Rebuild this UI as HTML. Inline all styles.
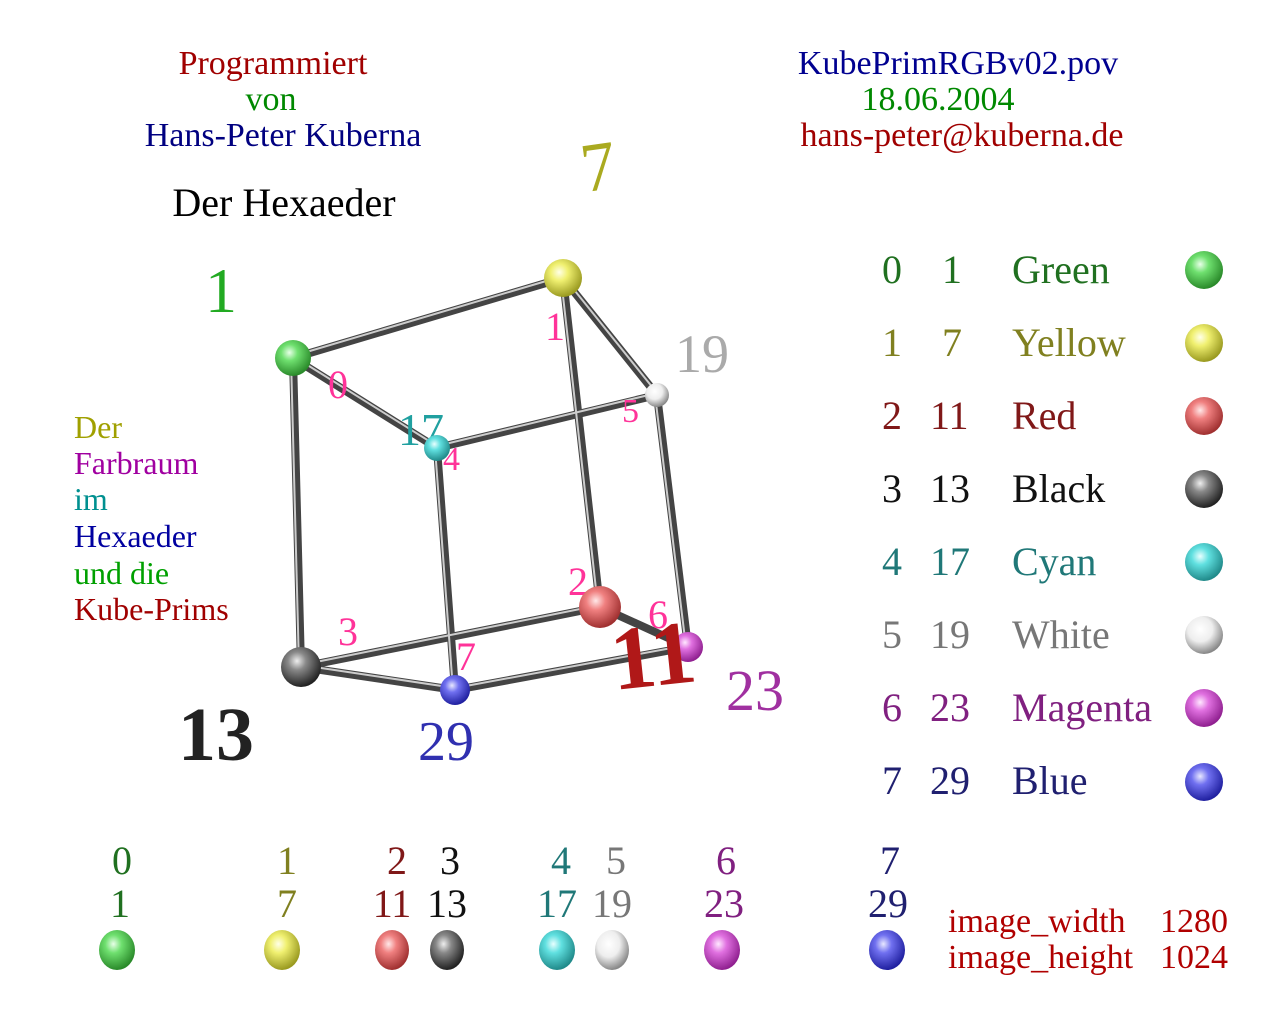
<!DOCTYPE html>
<html><head><meta charset="utf-8"><style>
html,body{margin:0;padding:0;background:#fff;}
svg{display:block;font-family:"Liberation Serif",serif;}
</style></head><body>
<svg width="1280" height="1024" viewBox="0 0 1280 1024" xmlns="http://www.w3.org/2000/svg">
<defs>
<radialGradient id="gG" cx="40%" cy="35%" r="65%"><stop offset="0" stop-color="#e8ffe8"/><stop offset=".35" stop-color="#6fe06f"/><stop offset="1" stop-color="#2a8a2a"/></radialGradient>
<radialGradient id="gY" cx="40%" cy="35%" r="65%"><stop offset="0" stop-color="#ffffe8"/><stop offset=".35" stop-color="#f0f070"/><stop offset="1" stop-color="#9a9a20"/></radialGradient>
<radialGradient id="gR" cx="40%" cy="35%" r="65%"><stop offset="0" stop-color="#ffe8e8"/><stop offset=".35" stop-color="#f08080"/><stop offset="1" stop-color="#a03030"/></radialGradient>
<radialGradient id="gK" cx="40%" cy="35%" r="65%"><stop offset="0" stop-color="#eeeeee"/><stop offset=".35" stop-color="#888"/><stop offset="1" stop-color="#222"/></radialGradient>
<radialGradient id="gC" cx="40%" cy="35%" r="65%"><stop offset="0" stop-color="#e8ffff"/><stop offset=".35" stop-color="#60e0e0"/><stop offset="1" stop-color="#208a8a"/></radialGradient>
<radialGradient id="gW" cx="40%" cy="35%" r="65%"><stop offset="0" stop-color="#ffffff"/><stop offset=".5" stop-color="#eeeeee"/><stop offset="1" stop-color="#888"/></radialGradient>
<radialGradient id="gM" cx="40%" cy="35%" r="65%"><stop offset="0" stop-color="#ffe8ff"/><stop offset=".35" stop-color="#e070e0"/><stop offset="1" stop-color="#902090"/></radialGradient>
<radialGradient id="gB" cx="40%" cy="35%" r="65%"><stop offset="0" stop-color="#e8e8ff"/><stop offset=".35" stop-color="#7070f0"/><stop offset="1" stop-color="#2020a0"/></radialGradient>
</defs>
<!-- header -->
<g font-size="34" text-anchor="middle">
<text x="273" y="74" fill="#a00000">Programmiert</text>
<text x="271" y="110" fill="#008800">von</text>
<text x="283" y="146" fill="#000080">Hans-Peter Kuberna</text>
<text x="958" y="74" fill="#000090">KubePrimRGBv02.pov</text>
<text x="938" y="110" fill="#008800">18.06.2004</text>
<text x="962" y="146" fill="#a00000">hans-peter@kuberna.de</text>
</g>
<text x="284" y="216" font-size="40" text-anchor="middle" fill="#000">Der Hexaeder</text>
<text x="580" y="190" font-size="70" fill="#aaaa20" transform="rotate(-8 598 160)">7</text>
<text x="205" y="312" font-size="64" fill="#22aa22">1</text>
<text x="675" y="372" font-size="54" fill="#aaaaaa">19</text>
<text x="178" y="760" font-size="76" fill="#222" font-weight="bold">13</text>
<text x="418" y="760" font-size="56" fill="#3030b0">29</text>
<text x="726" y="710" font-size="58" fill="#a030a0">23</text>
<!-- left text -->
<g font-size="32">
<text x="74" y="438" fill="#a0a000">Der</text>
<text x="74" y="474" fill="#a000a0">Farbraum</text>
<text x="74" y="510" fill="#009090">im</text>
<text x="74" y="547" fill="#0000a0">Hexaeder</text>
<text x="74" y="584" fill="#00a000">und die</text>
<text x="74" y="620" fill="#a00000">Kube-Prims</text>
</g>
<!-- edges -->
<g stroke-linecap="round">
<g stroke="#444" stroke-width="8">
<line x1="293" y1="358" x2="563" y2="278"/><line x1="293" y1="358" x2="437" y2="448"/>
<line x1="293" y1="358" x2="301" y2="667"/><line x1="563" y1="278" x2="657" y2="395"/>
<line x1="563" y1="278" x2="600" y2="607"/><line x1="437" y1="448" x2="657" y2="395"/>
<line x1="437" y1="448" x2="455" y2="690"/><line x1="657" y1="395" x2="688" y2="647"/>
<line x1="301" y1="667" x2="600" y2="607"/><line x1="301" y1="667" x2="455" y2="690"/>
<line x1="455" y1="690" x2="688" y2="647"/><line x1="600" y1="607" x2="688" y2="647"/>
</g>
<g stroke="#ccc" stroke-width="2">
<line x1="293" y1="356" x2="563" y2="276"/><line x1="293" y1="356" x2="437" y2="446"/>
<line x1="291" y1="358" x2="299" y2="667"/><line x1="563" y1="276" x2="657" y2="393"/>
<line x1="561" y1="278" x2="598" y2="607"/><line x1="437" y1="446" x2="657" y2="393"/>
<line x1="435" y1="448" x2="453" y2="690"/><line x1="655" y1="395" x2="686" y2="647"/>
<line x1="301" y1="665" x2="600" y2="605"/><line x1="301" y1="665" x2="455" y2="688"/>
<line x1="455" y1="688" x2="688" y2="645"/>
</g>
</g>
<!-- vertex labels -->
<g font-size="40" fill="#ff3399">
<text x="545" y="340">1</text><text x="328" y="398">0</text><text x="622" y="422" font-size="34">5</text>
<text x="443" y="470" font-size="34">4</text><text x="568" y="595">2</text><text x="338" y="645">3</text>
<text x="456" y="670">7</text><text x="648" y="628">6</text>
</g>
<text x="398" y="445" font-size="46" fill="#20a0a0">17</text>
<!-- spheres -->
<circle cx="293" cy="358" r="18" fill="url(#gG)"/>
<circle cx="563" cy="278" r="19" fill="url(#gY)"/>
<circle cx="437" cy="448" r="13" fill="url(#gC)"/>
<circle cx="657" cy="395" r="12" fill="url(#gW)"/>
<circle cx="301" cy="667" r="20" fill="url(#gK)"/>
<circle cx="600" cy="607" r="21" fill="url(#gR)"/>
<circle cx="688" cy="647" r="15" fill="url(#gM)"/>
<circle cx="455" cy="690" r="15" fill="url(#gB)"/>
<text x="610" y="686" font-size="90" fill="#b01818" font-weight="bold" transform="rotate(-6 650 650)">11</text>
<!-- legend -->
<g font-size="40">
<g fill="#207020"><text x="882" y="283">0</text><text x="942" y="283">1</text><text x="1012" y="283">Green</text></g>
<g fill="#808020"><text x="882" y="356">1</text><text x="942" y="356">7</text><text x="1012" y="356">Yellow</text></g>
<g fill="#801818"><text x="882" y="429">2</text><text x="930" y="429">11</text><text x="1012" y="429">Red</text></g>
<g fill="#111"><text x="882" y="502">3</text><text x="930" y="502">13</text><text x="1012" y="502">Black</text></g>
<g fill="#207878"><text x="882" y="575">4</text><text x="930" y="575">17</text><text x="1012" y="575">Cyan</text></g>
<g fill="#777"><text x="882" y="648">5</text><text x="930" y="648">19</text><text x="1012" y="648">White</text></g>
<g fill="#802080"><text x="882" y="721">6</text><text x="930" y="721">23</text><text x="1012" y="721">Magenta</text></g>
<g fill="#202070"><text x="882" y="794">7</text><text x="930" y="794">29</text><text x="1012" y="794">Blue</text></g>
</g>
<circle cx="1204" cy="270" r="19" fill="url(#gG)"/>
<circle cx="1204" cy="343" r="19" fill="url(#gY)"/>
<circle cx="1204" cy="416" r="19" fill="url(#gR)"/>
<circle cx="1204" cy="489" r="19" fill="url(#gK)"/>
<circle cx="1204" cy="562" r="19" fill="url(#gC)"/>
<circle cx="1204" cy="635" r="19" fill="url(#gW)"/>
<circle cx="1204" cy="708" r="19" fill="url(#gM)"/>
<circle cx="1204" cy="782" r="19" fill="url(#gB)"/>
<!-- bottom row -->
<g font-size="40" text-anchor="middle">
<text x="122" y="874" fill="#207020">0</text><text x="120" y="917" fill="#207020">1</text>
<text x="287" y="874" fill="#808020">1</text><text x="287" y="917" fill="#808020">7</text>
<text x="397" y="874" fill="#801818">2</text><text x="392" y="917" fill="#801818">11</text>
<text x="450" y="874" fill="#111">3</text><text x="447" y="917" fill="#111">13</text>
<text x="561" y="874" fill="#207878">4</text><text x="557" y="917" fill="#207878">17</text>
<text x="616" y="874" fill="#777">5</text><text x="612" y="917" fill="#777">19</text>
<text x="726" y="874" fill="#802080">6</text><text x="724" y="917" fill="#802080">23</text>
<text x="890" y="874" fill="#202070">7</text><text x="888" y="917" fill="#202070">29</text>
</g>
<ellipse cx="117" cy="950" rx="18" ry="20" fill="url(#gG)"/>
<ellipse cx="282" cy="950" rx="18" ry="20" fill="url(#gY)"/>
<ellipse cx="392" cy="950" rx="17" ry="20" fill="url(#gR)"/>
<ellipse cx="447" cy="950" rx="17" ry="20" fill="url(#gK)"/>
<ellipse cx="557" cy="950" rx="18" ry="20" fill="url(#gC)"/>
<ellipse cx="612" cy="950" rx="17" ry="20" fill="url(#gW)"/>
<ellipse cx="722" cy="950" rx="18" ry="20" fill="url(#gM)"/>
<ellipse cx="887" cy="950" rx="18" ry="20" fill="url(#gB)"/>
<g font-size="34" fill="#b00000">
<text x="948" y="932">image_width</text><text x="1160" y="932">1280</text>
<text x="948" y="968">image_height</text><text x="1160" y="968">1024</text>
</g>
</svg>
</body></html>
